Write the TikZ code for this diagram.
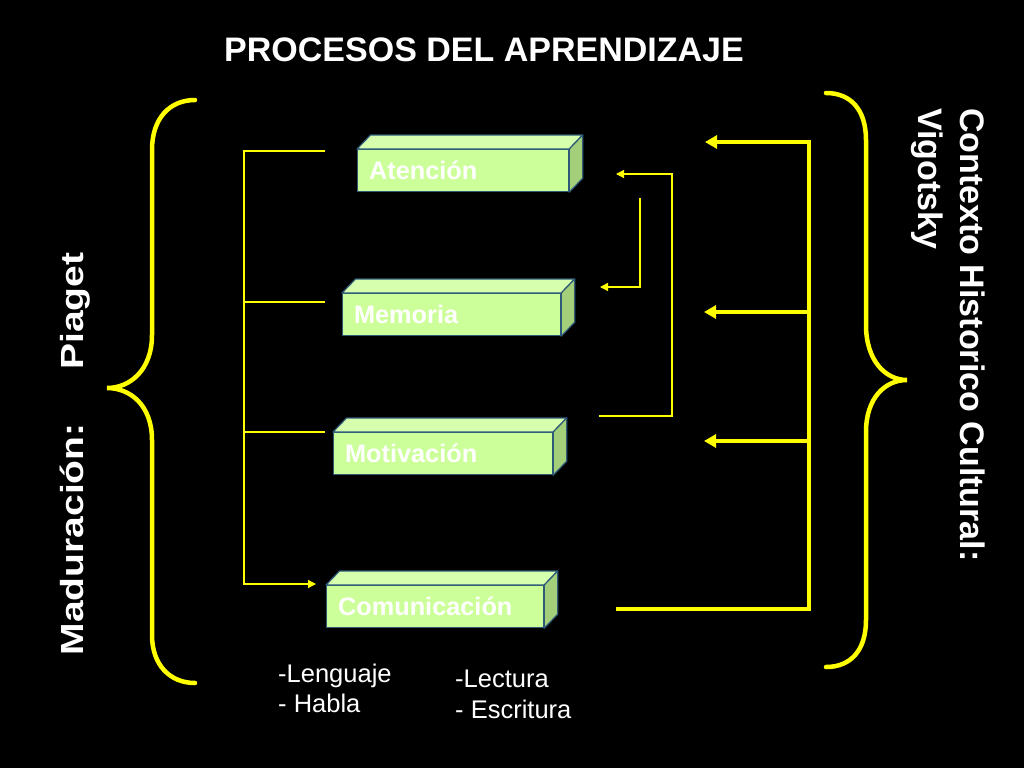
\documentclass[tikz,border=0pt]{standalone}
\usepackage{fontspec}
\setmainfont{Liberation Sans}
\usetikzlibrary{arrows.meta}
\definecolor{amarillo}{RGB}{255,255,0}
\definecolor{verdecaja}{RGB}{204,255,153}
\definecolor{verdetapa}{RGB}{214,255,174}
\definecolor{verdelado}{RGB}{163,206,122}
\definecolor{bordecaja}{RGB}{46,90,120}

\begin{document}
\begin{tikzpicture}[x=1pt, y=-1pt,
  caja/.style={fill=verdecaja, draw=bordecaja, line width=1.2pt, text=white,
    font=\bfseries\fontsize{25.3}{29}\selectfont, align=left, minimum height=42pt,
    text height=18.5pt, text depth=0pt, inner xsep=11.5pt, inner ysep=0pt},
  lado/.style={fill=verdelado, draw=bordecaja, line width=1.2pt, line join=round},
  tapa/.style={fill=verdetapa, draw=bordecaja, line width=1.2pt, line join=round},
  fino/.style={amarillo, line width=1.3pt},
  grueso/.style={amarillo, line width=4.5pt},
  llave/.style={amarillo, line width=4.5pt, line cap=round},
  lateral/.style={text=white, inner sep=0pt, font=\bfseries\fontsize{34}{40}\selectfont},
  nota/.style={text=white, inner sep=0pt, anchor=base west, font=\fontsize{25.5}{30}\selectfont}]
  \fill[black] (0,0) rectangle (1024,768);
  \useasboundingbox (0,0) rectangle (1024,768);

  \node[anchor=base, text=white, font=\bfseries\fontsize{34}{40}\selectfont] (titulo) at (484,62) {PROCESOS DEL APRENDIZAJE};

  \foreach \nom/\x/\y/\w/\txt in {aten/357/149/211/Atención, memo/342/293/218/Memoria,
      moti/333/432/219/Motivación, comu/326/585/217/Comunicación} {
    \pgfmathsetmacro\tw{\w-23}
    \node[caja, text width=\tw pt, anchor=north west] (\nom) at (\x,\y) {\txt};
    \filldraw[tapa] (\nom.north west) -- ++(13.5,-14) -- ([shift={(13.5,-14)}]\nom.north east) -- (\nom.north east) -- cycle;
    \filldraw[lado] (\nom.north east) -- ++(13.5,-14) -- ([shift={(13.5,-14)}]\nom.south east) -- (\nom.south east) -- cycle;
  }

  \coordinate (la) at (325,151);
  \coordinate (lb) at (325,302);
  \coordinate (lc) at (325,432);
  \coordinate (ld) at (316,584);
  \draw[fino, -{Triangle[length=8pt,width=8pt]}] (la) -- ++(-81,0) |- (ld);
  \draw[fino] (lb) -- ++(-81,0);
  \draw[fino] (lc) -- ++(-81,0);

  \coordinate (ra) at (599,416);
  \coordinate (rb) at (616,174);
  \coordinate (rc) at (640,198);
  \coordinate (rd) at (600,287);
  \draw[fino, -{Triangle[length=8pt,width=8pt]}] (ra) -- ++(73,0) |- (rb);
  \draw[fino, -{Triangle[length=8pt,width=8pt]}] (rc) |- (rd);

  \coordinate (eje) at (809,609);
  \coordinate (ta) at (705,142);
  \coordinate (tb) at (704,312);
  \coordinate (tc) at (704,441);
  \coordinate (td) at (616,609);
  \draw[grueso, -{Triangle[length=12pt,width=13pt]}] (td) -- (eje) |- (ta);
  \draw[grueso, -{Triangle[length=12pt,width=13pt]}] (eje |- tb) -- (tb);
  \draw[grueso, -{Triangle[length=12pt,width=13pt]}] (eje |- tc) -- (tc);

  \draw[llave] (195,100) .. controls (170,100) and (152,118) .. (152,150) -- (152,335)
    .. controls (152,370) and (130,388) .. (107,388) .. controls (130,388) and (152,405) .. (152,440)
    -- (152,635) .. controls (152,665) and (170,683) .. (195,683);
  \draw[llave] (826,93) .. controls (851,93) and (866,110) .. (866,140) -- (866,325)
    .. controls (866,360) and (885,380) .. (907,380) .. controls (885,380) and (866,398) .. (866,432)
    -- (866,620) .. controls (866,650) and (851,667) .. (826,667);

  \node[lateral, font=\bfseries\fontsize{32}{38}\selectfont, rotate=90, xscale=1.22, anchor=base] (madur) at (83,454) {Maduración:\hspace{44pt}Piaget};
  \node[lateral, rotate=-90, anchor=base west] (contexto) at (960,108) {Contexto Historico Cultural:};
  \node[lateral, rotate=-90, anchor=base west] (vigot) at (918,108) {Vigotsky};

  \node[nota] (leng) at (278,682) {-Lenguaje};
  \node[nota] (habla) at (278,712) {- Habla};
  \node[nota] (lect) at (455,687) {-Lectura};
  \node[nota] (escr) at (455,718) {- Escritura};
\end{tikzpicture}
\end{document}
